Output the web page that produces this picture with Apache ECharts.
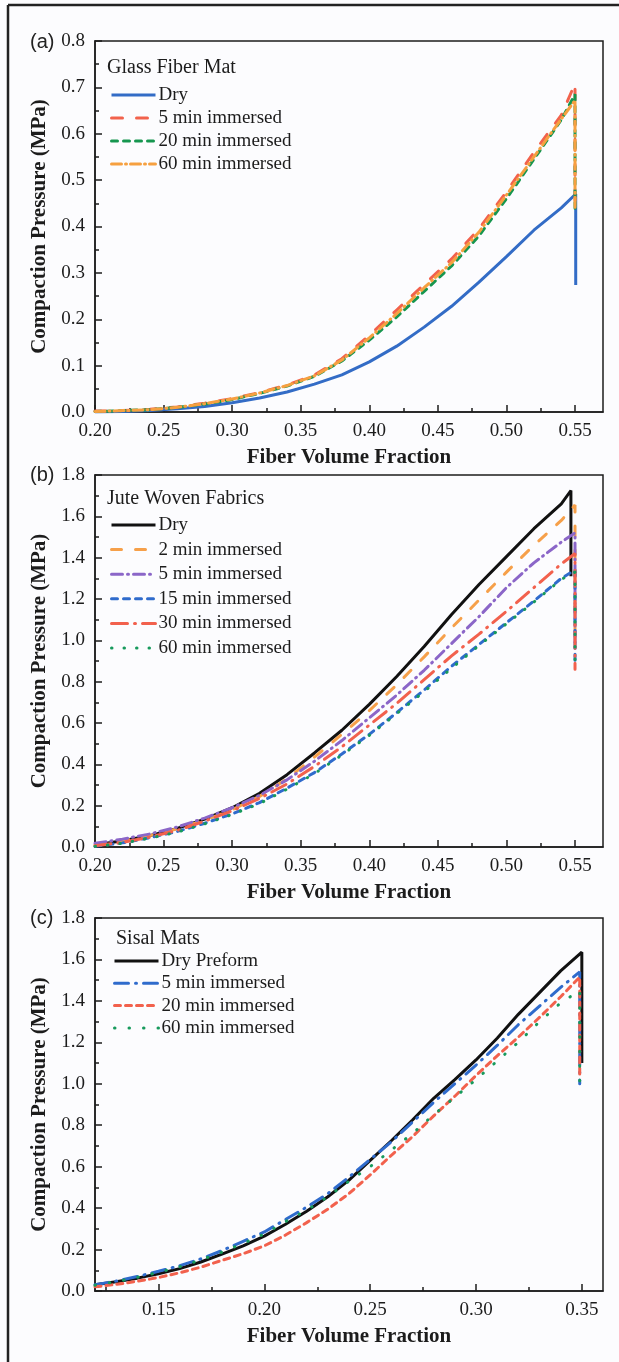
<!DOCTYPE html>
<html>
<head>
<meta charset="utf-8">
<script src="https://cdn.jsdelivr.net/npm/echarts@6/dist/echarts.min.js"></script>
<style>
  html, body { margin: 0; padding: 0; background: #fff; }
  #chart { width: 619px; height: 1362px; }
</style>
</head>
<body>
<div id="chart"></div>
<script>
// (a) glass fiber mat
const glassX = [0.20, 0.22, 0.24, 0.26, 0.28, 0.30, 0.32, 0.34, 0.36, 0.38, 0.40, 0.42, 0.44, 0.46, 0.48, 0.50, 0.52, 0.54];
const glassDry = [0, 0.001, 0.003, 0.007, 0.012, 0.02, 0.03, 0.043, 0.06, 0.08, 0.108, 0.142, 0.183, 0.228, 0.28, 0.335, 0.392, 0.44];
const glass5 = [0.002, 0.003, 0.006, 0.011, 0.019, 0.029, 0.042, 0.058, 0.08, 0.115, 0.165, 0.22, 0.275, 0.33, 0.395, 0.475, 0.56, 0.64];
const glass20 = [0.001, 0.003, 0.005, 0.01, 0.017, 0.027, 0.04, 0.056, 0.077, 0.11, 0.155, 0.205, 0.26, 0.315, 0.38, 0.46, 0.545, 0.63];
const glass60 = [0.001, 0.003, 0.005, 0.01, 0.018, 0.028, 0.041, 0.057, 0.078, 0.112, 0.16, 0.212, 0.268, 0.322, 0.388, 0.468, 0.55, 0.632];
const glassPeakX = [0.5505, 0.55, 0.55, 0.55];
const glassPeakY = [0.47, 0.708, 0.685, 0.672];
const glassDropY = [0.274, 0.43, 0.43, 0.435];

// (b) jute woven fabrics
const juteX = [0.20, 0.22, 0.24, 0.26, 0.28, 0.30, 0.32, 0.34, 0.36, 0.38, 0.40, 0.42, 0.44, 0.46, 0.48, 0.50, 0.52, 0.54];
const juteDry = [0.01, 0.03, 0.055, 0.09, 0.135, 0.19, 0.26, 0.35, 0.455, 0.565, 0.69, 0.825, 0.97, 1.125, 1.27, 1.405, 1.54, 1.66];
const jute2 = [0.01, 0.03, 0.055, 0.088, 0.13, 0.18, 0.245, 0.33, 0.435, 0.545, 0.66, 0.785, 0.92, 1.06, 1.195, 1.33, 1.46, 1.58];
const jute5 = [0.018, 0.038, 0.063, 0.097, 0.14, 0.19, 0.25, 0.325, 0.415, 0.515, 0.625, 0.735, 0.855, 0.985, 1.115, 1.255, 1.375, 1.475];
const jute15 = [0.003, 0.02, 0.045, 0.075, 0.115, 0.16, 0.215, 0.285, 0.36, 0.45, 0.545, 0.65, 0.76, 0.875, 0.98, 1.085, 1.19, 1.3];
const jute30 = [0.006, 0.022, 0.048, 0.08, 0.125, 0.175, 0.235, 0.305, 0.39, 0.485, 0.59, 0.695, 0.81, 0.925, 1.03, 1.14, 1.255, 1.37];
const jute60 = [0.003, 0.018, 0.043, 0.072, 0.112, 0.157, 0.21, 0.28, 0.355, 0.445, 0.54, 0.645, 0.752, 0.865, 0.975, 1.08, 1.185, 1.295];
const jutePeakX = [0.547, 0.55, 0.55, 0.55, 0.55, 0.55];
const jutePeakY = [1.725, 1.655, 1.52, 1.34, 1.42, 1.33];
const juteDropY = [1.31, 1.0, 0.95, 0.88, 0.86, 0.9];

// (c) sisal mats
const sisalX = [0.12, 0.13, 0.14, 0.15, 0.16, 0.17, 0.18, 0.19, 0.20, 0.21, 0.22, 0.23, 0.24, 0.25, 0.26, 0.27, 0.28, 0.29, 0.30, 0.31, 0.32, 0.33, 0.34];
const sisalDry = [0.03, 0.045, 0.062, 0.083, 0.108, 0.14, 0.178, 0.218, 0.265, 0.322, 0.385, 0.455, 0.535, 0.63, 0.725, 0.825, 0.93, 1.02, 1.115, 1.22, 1.335, 1.44, 1.545];
const sisal5 = [0.03, 0.048, 0.07, 0.095, 0.122, 0.155, 0.195, 0.24, 0.285, 0.345, 0.405, 0.47, 0.55, 0.635, 0.72, 0.815, 0.91, 1.0, 1.09, 1.185, 1.285, 1.375, 1.465];
const sisal20 = [0.02, 0.032, 0.047, 0.065, 0.088, 0.115, 0.148, 0.18, 0.218, 0.27, 0.33, 0.395, 0.47, 0.56, 0.655, 0.745, 0.845, 0.94, 1.04, 1.135, 1.225, 1.32, 1.42];
const sisal60 = [0.028, 0.045, 0.066, 0.09, 0.117, 0.15, 0.188, 0.23, 0.275, 0.335, 0.39, 0.455, 0.53, 0.6, 0.68, 0.76, 0.85, 0.935, 1.02, 1.11, 1.2, 1.3, 1.39];
const sisalPeakX = [0.35, 0.349, 0.349, 0.349];
const sisalPeakY = [1.635, 1.54, 1.515, 1.45];
const sisalDropY = [1.1, 1.0, 1.03, 0.98];

// ticks
const xMajorAB = [0.20, 0.25, 0.30, 0.35, 0.40, 0.45, 0.50, 0.55];
const xMinorAB = [0.225, 0.275, 0.325, 0.375, 0.425, 0.475, 0.525];
const xMajorC = [0.15, 0.20, 0.25, 0.30, 0.35];
const xMinorC = [0.125, 0.175, 0.225, 0.275, 0.325];

const serif = "Liberation Serif";
const ink = "#1c1c1c";

// grid boxes (pixels)
const grids = [
  { left: 95, top: 41, width: 508, height: 371 },
  { left: 95, top: 475, width: 508, height: 372 },
  { left: 95, top: 918, width: 508, height: 373 },
];

const mkData = (xs, ys, px, py, dy) =>
  xs.map((x, i) => [x, ys[i]]).concat([[px, py], [px, dy]]);

const mkSeries = (name, g, data, color, dash, width) => ({
  name: name,
  type: "line",
  xAxisIndex: g * 2,
  yAxisIndex: g,
  data: data,
  symbol: "none",
  smooth: false,
  lineStyle: { color: color, width: width || 3, type: dash, cap: dash === "solid" ? "butt" : "round" },
  itemStyle: { color: color },
  emphasis: { disabled: true },
});

const panelSeries = [
  // [panel, prefix, label, ys, color, dash]
  [0, "a:", "Dry", glassDry, "#336cc6", "solid"],
  [0, "a:", "5 min immersed", glass5, "#f2624c", [11, 14]],
  [0, "a:", "20 min immersed", glass20, "#16964f", [6, 6]],
  [0, "a:", "60 min immersed", glass60, "#f6a040", [10, 4, 1, 4]],
  [1, "b:", "Dry", juteDry, "#111111", "solid"],
  [1, "b:", "2 min immersed", jute2, "#f6a04a", [10, 14]],
  [1, "b:", "5 min immersed", jute5, "#8b66c8", [11, 5, 1, 5]],
  [1, "b:", "15 min immersed", jute15, "#2f6bcc", [6, 6]],
  [1, "b:", "30 min immersed", jute30, "#f2614d", [16, 7, 1, 7]],
  [1, "b:", "60 min immersed", jute60, "#179a5c", [0.5, 12]],
  [2, "c:", "Dry Preform", sisalDry, "#111111", "solid"],
  [2, "c:", "5 min immersed", sisal5, "#2f6bcc", [14, 7, 1, 7]],
  [2, "c:", "20 min immersed", sisal20, "#f2614d", [6, 5]],
  [2, "c:", "60 min immersed", sisal60, "#179a5c", [0.5, 14]],
];

const xsFor = [glassX, juteX, sisalX];
const peaks = [
  [glassPeakX, glassPeakY, glassDropY],
  [jutePeakX, jutePeakY, juteDropY],
  [sisalPeakX, sisalPeakY, sisalDropY],
];
const counters = [0, 0, 0];

const series = panelSeries.map(([g, pre, label, ys, color, dash]) => {
  const k = counters[g]++;
  const [px, py, dy] = peaks[g];
  const data = mkData(xsFor[g], ys, px[k], py[k], dy[k]);
  return mkSeries(pre + label, g, data, color, dash);
});

const xAxes = [];
const yAxes = [];
const xRanges = [[0.20, 0.5704], [0.20, 0.5704], [0.12, 0.36]];
const yMax = [0.8, 1.8, 1.8];
const yStep = [0.1, 0.2, 0.2];

grids.forEach((g, i) => {
  const majors = i < 2 ? xMajorAB : xMajorC;
  const minors = i < 2 ? xMinorAB : xMinorC;
  xAxes.push({
    type: "value",
    gridIndex: i,
    min: xRanges[i][0],
    max: xRanges[i][1],
    position: "bottom",
    axisLine: { show: true, onZero: false, lineStyle: { color: ink, width: 1.5 } },
    axisTick: { show: true, inside: true, length: 7, customValues: majors, lineStyle: { color: ink, width: 1.5 } },
    axisLabel: {
      customValues: majors,
      formatter: (v) => v.toFixed(2),
      margin: 10,
      fontFamily: serif,
      fontSize: 19,
      color: ink,
    },
    splitLine: { show: false },
    name: "Fiber Volume Fraction",
    nameLocation: "middle",
    nameGap: 35,
    nameTextStyle: { fontFamily: serif, fontSize: 21, fontWeight: "bold", color: ink },
  });
  // minor ticks only
  xAxes.push({
    type: "value",
    gridIndex: i,
    min: xRanges[i][0],
    max: xRanges[i][1],
    position: "bottom",
    axisLine: { show: false },
    axisTick: { show: true, inside: true, length: 4, customValues: minors, lineStyle: { color: ink, width: 1.5 } },
    axisLabel: { show: false },
    splitLine: { show: false },
  });
  yAxes.push({
    type: "value",
    gridIndex: i,
    min: 0,
    max: yMax[i],
    interval: yStep[i],
    axisLine: { show: true, onZero: false, lineStyle: { color: ink, width: 1.5 } },
    axisTick: { show: true, inside: true, length: 7, lineStyle: { color: ink, width: 1.5 } },
    minorTick: { show: true, splitNumber: 2, length: 4, lineStyle: { color: ink, width: 1.5 } },
    axisLabel: {
      formatter: (v) => v.toFixed(1),
      margin: 10,
      fontFamily: serif,
      fontSize: 19,
      color: ink,
    },
    splitLine: { show: false },
    name: "Compaction Pressure (MPa)",
    nameLocation: "middle",
    nameRotate: 90,
    nameGap: 45,
    nameTextStyle: { fontFamily: serif, fontSize: 21, fontWeight: "bold", color: ink },
  });
});

const legendTops = [85, 515, 951];
const legendGaps = [3, 4.6, 2.3];
const legendLefts = [110, 110, 113];
const legends = [0, 1, 2].map((g) => ({
  data: panelSeries.filter((s) => s[0] === g).map((s) => s[1] + s[2]),
  orient: "vertical",
  left: legendLefts[g],
  top: legendTops[g],
  itemWidth: 44,
  itemHeight: 14,
  itemGap: legendGaps[g],
  padding: 0,
  selectedMode: false,
  formatter: (name) => name.slice(2),
  itemStyle: { opacity: 0 },
  lineStyle: { width: 3 },
  textStyle: { fontFamily: serif, fontSize: 19, color: ink, lineHeight: 20, padding: [0, 0, 0, -2] },
}));

const titleStyle = { fontFamily: serif, fontSize: 20, fontWeight: "normal", color: ink };
const letterStyle = { fontFamily: "Liberation Sans", fontSize: 20, fontWeight: "normal", color: "#222" };
const titles = [
  { text: "(a)", left: 30, top: 32, padding: 0, textStyle: letterStyle },
  { text: "(b)", left: 30, top: 465, padding: 0, textStyle: letterStyle },
  { text: "(c)", left: 30, top: 908, padding: 0, textStyle: letterStyle },
  { text: "Glass Fiber Mat", left: 107, top: 58, padding: 0, textStyle: titleStyle },
  { text: "Jute Woven Fabrics", left: 107, top: 489, padding: 0, textStyle: titleStyle },
  { text: "Sisal Mats", left: 116, top: 929, padding: 0, textStyle: titleStyle },
];

const chart = echarts.init(document.getElementById("chart"), null, { renderer: "canvas" });
chart.setOption({
  backgroundColor: "#fcfcfe",
  animation: false,
  title: titles,
  legend: legends,
  grid: grids.map((g) => ({ ...g, show: true, borderColor: ink, borderWidth: 1.5, backgroundColor: "transparent" })),
  xAxis: xAxes,
  yAxis: yAxes,
  series: series,
  graphic: [
    // outer frame (left and top edges)
    { type: "line", shape: { x1: 8, y1: 5, x2: 8, y2: 1362 }, style: { stroke: "#222", lineWidth: 2.5 } },
    { type: "line", shape: { x1: 8, y1: 5, x2: 619, y2: 5 }, style: { stroke: "#222", lineWidth: 2.5 } },
  ],
});
</script>
</body>
</html>
